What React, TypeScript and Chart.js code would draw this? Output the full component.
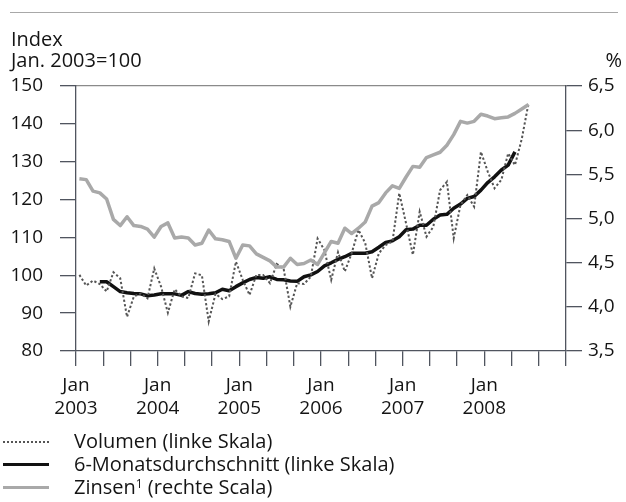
import React, { useEffect, useRef } from "react";
import { Chart, registerables } from "chart.js";

Chart.register(...registerables);

const FONT = "'Open Sans', 'DejaVu Sans', sans-serif";

// Monthly data, first point = Jan 2003 (index 0)
const volumen = [
  100.1, 97.3, 98.6, 97.7, 95.7, 100.8, 99.2, 89.0, 94.4, 95.2, 93.9, 101.8,
  97.0, 90.1, 96.3, 94.4, 94.0, 100.5, 100.0, 87.8, 95.1, 93.7, 94.4, 103.6,
  98.8, 94.8, 100.1, 100.1, 97.9, 103.0, 101.8, 91.7, 97.9, 97.7, 99.6, 109.7,
  106.7, 98.8, 106.1, 101.0, 105.8, 112.0, 108.5, 99.2, 105.8, 108.0, 108.9, 121.7,
  113.7, 105.4, 116.8, 110.2, 112.8, 122.5, 124.7, 109.8, 118.6, 121.2, 118.1, 132.6,
  127.4, 123.0, 125.2, 132.2, 129.1, 136.0, 145.5,
];

// 6-month average starts at index 3 (Apr 2003)
const durchschnittStart = 3;
const durchschnitt = [
  98.3, 98.3, 97.0, 95.7, 95.4, 95.2, 95.1, 94.6, 94.8,
  95.1, 95.1, 95.1, 94.7, 95.7, 95.2, 95.0, 95.1, 95.4, 96.3, 95.9, 97.0,
  98.0, 98.9, 99.4, 99.2, 99.6, 98.9, 98.8, 98.5, 98.4, 99.6, 100.1, 101.0,
  102.5, 103.3, 104.2, 104.9, 105.8, 105.8, 105.8, 106.2, 107.4, 108.7, 109.1, 110.2,
  112.0, 112.2, 113.2, 113.2, 114.8, 115.9, 116.1, 117.7, 118.8, 120.3, 120.8, 122.5,
  124.5, 126.0, 127.8, 129.1, 132.6,
];

const zinsen = [
  5.45, 5.44, 5.31, 5.29, 5.22, 4.99, 4.92, 5.02, 4.92, 4.91, 4.88, 4.79,
  4.91, 4.95, 4.78, 4.79, 4.78, 4.70, 4.72, 4.87, 4.77, 4.76, 4.74, 4.55,
  4.70, 4.69, 4.60, 4.56, 4.52, 4.45, 4.45, 4.55, 4.48, 4.49, 4.53, 4.48,
  4.61, 4.74, 4.72, 4.89, 4.83, 4.89, 4.96, 5.14, 5.18, 5.29, 5.37, 5.34,
  5.47, 5.59, 5.58, 5.69, 5.72, 5.75, 5.83, 5.95, 6.10, 6.08, 6.10, 6.18,
  6.16, 6.13, 6.14, 6.15, 6.19, 6.24, 6.29,
];

const xTickMonth = "Jan";
const xTickYears = ["2003", "2004", "2005", "2006", "2007", "2008"];
const leftTickValues = [80, 90, 100, 110, 120, 130, 140, 150];
const rightTickLabels = ["3,5", "4,0", "4,5", "5,0", "5,5", "6,0", "6,5"];

const legendLabels = [
  "Volumen (linke Skala)",
  "6-Monatsdurchschnitt (linke Skala)",
  "Zinsen",
];

const AXIS_COLOR = "#50555f";
const TEXT_COLOR = "#141414";

export default function App() {
  const ref = useRef<HTMLCanvasElement>(null);

  useEffect(() => {
    const canvas = ref.current!;
    const chart = new Chart(canvas, {
      type: "line",
      data: {
        datasets: [
          {
            label: legendLabels[2],
            data: zinsen.map((v, i) => ({ x: i + 0.5, y: v })),
            yAxisID: "yR",
            xAxisID: "x",
            borderColor: "#a9a9a9",
            borderWidth: 3.5,
            pointRadius: 0,
            tension: 0,
            borderJoinStyle: "round",
          },
          {
            label: legendLabels[0],
            data: volumen.map((v, i) => ({ x: i + 0.5, y: v })),
            yAxisID: "y",
            xAxisID: "x",
            borderColor: "#555555",
            borderWidth: 2,
            borderDash: [2.3, 2.2],
            pointRadius: 0,
            tension: 0,
          },
          {
            label: legendLabels[1],
            data: durchschnitt.map((v, i) => ({ x: i + durchschnittStart + 0.5, y: v })),
            yAxisID: "y",
            xAxisID: "x",
            borderColor: "#111111",
            borderWidth: 3.5,
            pointRadius: 0,
            tension: 0,
            borderJoinStyle: "round",
          },
        ],
      },
      options: {
        animation: false,
        responsive: false,
        maintainAspectRatio: false,
        layout: { padding: { left: 10, right: 4, top: 86, bottom: 81 } },
        plugins: {
          legend: { display: false },
          tooltip: { enabled: false },
        },
        scales: {
          x: {
            type: "linear",
            position: "bottom",
            min: 0,
            max: 72,
            afterBuildTicks: (s: any) => {
              const t = [];
              for (let v = 0; v <= 72; v += 4) t.push({ value: v });
              s.ticks = t;
            },
            ticks: {
              autoSkip: false,
              maxRotation: 0,
              minRotation: 0,
              padding: 8,
              color: TEXT_COLOR,
              font: { family: FONT, size: 19 },
              callback: (v: any) => {
                const n = Number(v);
                if (n % 12 === 0 && n / 12 < xTickYears.length) {
                  return [xTickMonth, xTickYears[n / 12]];
                }
                return "";
              },
            },
            grid: {
              drawOnChartArea: false,
              drawTicks: true,
              tickLength: 15,
              color: AXIS_COLOR,
              lineWidth: 1.3,
            },
            border: { display: true, color: AXIS_COLOR, width: 1.3 },
            afterFit: (s: any) => {
              s.height = 70;
            },
          },
          xTop: {
            type: "linear",
            position: "top",
            min: 0,
            max: 72,
            ticks: { display: false },
            grid: { display: false, drawTicks: false },
            border: { display: true, color: "#8a8a8a", width: 1.3 },
            afterFit: (s: any) => {
              s.height = 0;
            },
          },
          y: {
            type: "linear",
            position: "left",
            min: 80,
            max: 150,
            afterBuildTicks: (s: any) => {
              s.ticks = leftTickValues.map((v) => ({ value: v }));
            },
            ticks: {
              padding: 17,
              color: TEXT_COLOR,
              font: { family: FONT, size: 19 },
              callback: (v: any) => String(v),
            },
            grid: {
              drawOnChartArea: false,
              drawTicks: true,
              tickLength: 16,
              color: AXIS_COLOR,
              lineWidth: 1.3,
            },
            border: { display: true, color: AXIS_COLOR, width: 1.3 },
            afterFit: (s: any) => {
              s.width = 66;
            },
          },
          yR: {
            type: "linear",
            position: "right",
            min: 3.5,
            max: 6.5,
            afterBuildTicks: (s: any) => {
              s.ticks = rightTickLabels.map((_, i) => ({ value: 3.5 + i * 0.5 }));
            },
            ticks: {
              padding: 6,
              color: TEXT_COLOR,
              font: { family: FONT, size: 19 },
              callback: (v: any) => {
                const idx = Math.round((Number(v) - 3.5) / 0.5);
                return rightTickLabels[idx] ?? "";
              },
            },
            grid: {
              drawOnChartArea: false,
              drawTicks: true,
              tickLength: 16,
              color: AXIS_COLOR,
              lineWidth: 1.3,
            },
            border: { display: true, color: AXIS_COLOR, width: 1.3 },
            afterFit: (s: any) => {
              s.width = 56;
            },
          },
        },
      },
    });
    return () => chart.destroy();
  }, []);

  const textStyle: React.CSSProperties = {
    position: "absolute",
    fontFamily: FONT,
    fontSize: 20,
    lineHeight: "20px",
    color: TEXT_COLOR,
    whiteSpace: "nowrap",
  };

  const legendRow = (top: number, sample: React.CSSProperties, label: React.ReactNode) => (
    <div style={{ position: "absolute", left: 0, top, width: 620, height: 23 }}>
      <div style={{ position: "absolute", left: 3, width: 46, top: 11, ...sample }} />
      <div style={{ ...textStyle, left: 74, top: 1 }}>{label}</div>
    </div>
  );

  return (
    <div
      style={{
        position: "absolute",
        left: 0,
        top: 0,
        width: 626,
        height: 502,
        background: "#ffffff",
        overflow: "hidden",
      }}
    >
      <div
        style={{
          position: "absolute",
          left: 10,
          top: 12,
          width: 608,
          height: 0,
          borderTop: "1.3px solid #a8a8a8",
        }}
      />
      <canvas ref={ref} width={626} height={502} style={{ position: "absolute", left: 0, top: 0 }} />
      <div style={{ ...textStyle, left: 11, top: 29 }}>Index</div>
      <div style={{ ...textStyle, left: 11, top: 50 }}>Jan. 2003=100</div>
      <div style={{ ...textStyle, right: 4, top: 50 }}>%</div>
      {legendRow(430, { borderTop: "2px dotted #555555" }, legendLabels[0])}
      {legendRow(453, { borderTop: "3.5px solid #111111", marginTop: -1 }, legendLabels[1])}
      {legendRow(476, { borderTop: "3.5px solid #a9a9a9", marginTop: -1 }, (
        <span>
          {legendLabels[2]}
          <sup style={{ fontSize: 12, lineHeight: 0, verticalAlign: "6px" }}>1</sup> (rechte Scala)
        </span>
      ))}
    </div>
  );
}
